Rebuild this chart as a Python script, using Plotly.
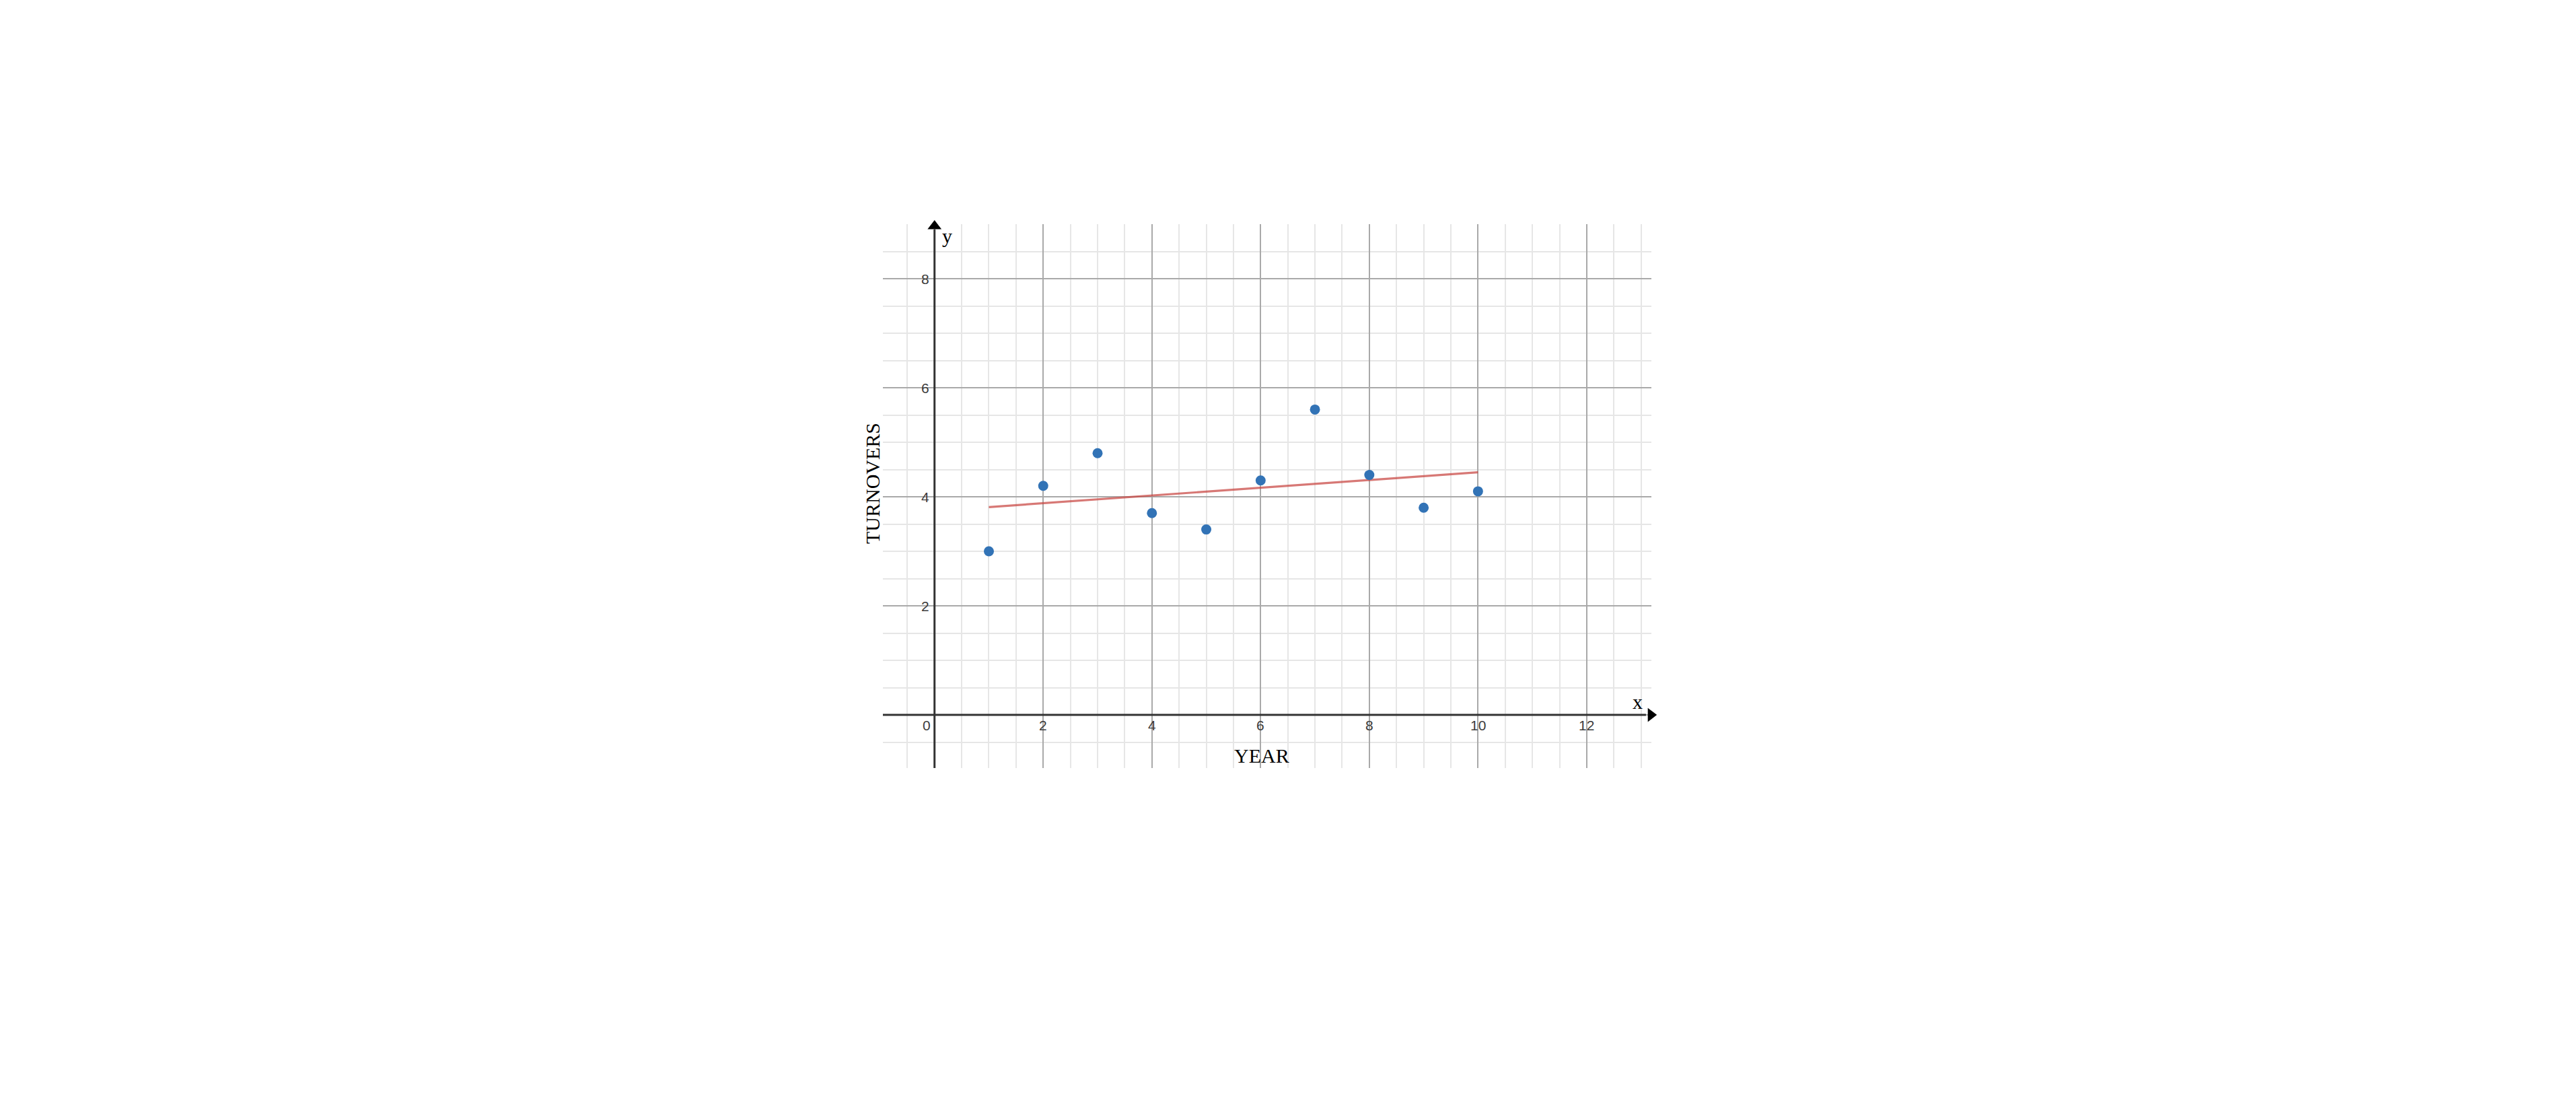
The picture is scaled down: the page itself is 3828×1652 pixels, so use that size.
import numpy as np
import plotly.graph_objects as go

# ---- data ----
years = [1, 2, 3, 4, 5, 6, 7, 8, 9, 10]
turnovers = [3.0, 4.2, 4.8, 3.7, 3.4, 4.3, 5.6, 4.4, 3.8, 4.1]

x_tick_vals = [2, 4, 6, 8, 10, 12]
x_tick_text = ["2", "4", "6", "8", "10", "12"]
y_tick_vals = [2, 4, 6, 8]
y_tick_text = ["2", "4", "6", "8"]
origin_text = "0"

x_title = "YEAR"
y_title = "TURNOVERS"

# ---- least squares trend line (from data) ----
slope, intercept = np.polyfit(years, turnovers, 1)
fit_x = [min(years), max(years)]
fit_y = [slope * v + intercept for v in fit_x]

X_RANGE = [-0.95, 13.19]
Y_RANGE = [-0.975, 9.0]

# page has an 8px body margin; compensate so the plot lands on the reference pixels
PAGE_OFF = 8
W, H = 3828 - 2 * PAGE_OFF, 1652 - 2 * PAGE_OFF
PL, PT, PW, PH = 1312 - PAGE_OFF, 333 - PAGE_OFF, 1142, 808
M = dict(l=PL, r=W - PL - PW, t=PT, b=H - PT - PH)

fig = go.Figure()

fig.add_trace(go.Scatter(
    x=fit_x, y=fit_y, mode="lines",
    line=dict(color="rgba(199,68,64,0.72)", width=3.2),
    hoverinfo="skip", showlegend=False,
))

fig.add_trace(go.Scatter(
    x=years, y=turnovers, mode="markers",
    marker=dict(color="#3273b6", size=15, line=dict(width=0)),
    showlegend=False,
))

# axis arrow heads
fig.add_trace(go.Scatter(
    x=[0], y=[Y_RANGE[1] - 0.037], mode="markers",
    marker=dict(symbol="triangle-up", size=18, color="black", line=dict(width=0)),
    cliponaxis=False, hoverinfo="skip", showlegend=False,
))
fig.add_trace(go.Scatter(
    x=[X_RANGE[1] - 0.01], y=[0], mode="markers",
    marker=dict(symbol="triangle-right", size=18, color="black", line=dict(width=0)),
    cliponaxis=False, hoverinfo="skip", showlegend=False,
))

axis_common = dict(
    showgrid=True, gridcolor="#a9a9a9", gridwidth=2,
    zeroline=False, showticklabels=False, ticks="",
    showline=False, dtick=2, tick0=0,
    minor=dict(dtick=0.5, tick0=0, showgrid=True, gridcolor="#e6e6e6", gridwidth=1.5),
    fixedrange=True,
)

fig.update_layout(
    width=W, height=H, autosize=False,
    margin=M,
    paper_bgcolor="white", plot_bgcolor="white",
    xaxis=dict(range=X_RANGE, **axis_common),
    yaxis=dict(range=Y_RANGE, **axis_common),
    showlegend=False,
)

# axis lines
fig.add_shape(type="line", xref="x", yref="y", x0=X_RANGE[0], x1=X_RANGE[1] - 0.1, y0=0, y1=0,
              line=dict(color="#333333", width=3), layer="above")
fig.add_shape(type="line", xref="x", yref="y", x0=0, x1=0, y0=Y_RANGE[0], y1=Y_RANGE[1] - 0.1,
              line=dict(color="#333333", width=3), layer="above")

tick_font = dict(family="Liberation Sans, Arial, sans-serif", size=21, color="#3c3c3c")
for v, t in zip(x_tick_vals, x_tick_text):
    fig.add_annotation(x=v, y=0, xref="x", yref="y", text=t, showarrow=False,
                       xanchor="center", yanchor="middle", yshift=-15, font=tick_font)
for v, t in zip(y_tick_vals, y_tick_text):
    fig.add_annotation(x=0, y=v, xref="x", yref="y", text=t, showarrow=False,
                       xanchor="right", yanchor="middle", xshift=-6, font=tick_font)
fig.add_annotation(x=0, y=0, xref="x", yref="y", text=origin_text, showarrow=False,
                   xanchor="center", yanchor="middle", xshift=-12, yshift=-15, font=tick_font)

serif = dict(family="Liberation Serif, Times New Roman, serif", size=30, color="black")
fig.add_annotation(x=(1296 - 1312) / PW, y=(1141 - 718) / PH,
                   xref="paper", yref="paper", text=y_title, textangle=-90, showarrow=False,
                   xanchor="center", yanchor="middle", font=serif)
fig.add_annotation(x=(1875 - 1312) / PW, y=(1141 - 1122) / PH,
                   xref="paper", yref="paper", text=x_title, showarrow=False,
                   xanchor="center", yanchor="middle", font=serif)
fig.add_annotation(x=0.227, y=8.78, xref="x", yref="y", text="y", showarrow=False,
                   xanchor="center", yanchor="middle", font=serif)
fig.add_annotation(x=12.93, y=0.235, xref="x", yref="y", text="x", showarrow=False,
                   xanchor="center", yanchor="middle", font=serif)

fig.write_html("out.html")
